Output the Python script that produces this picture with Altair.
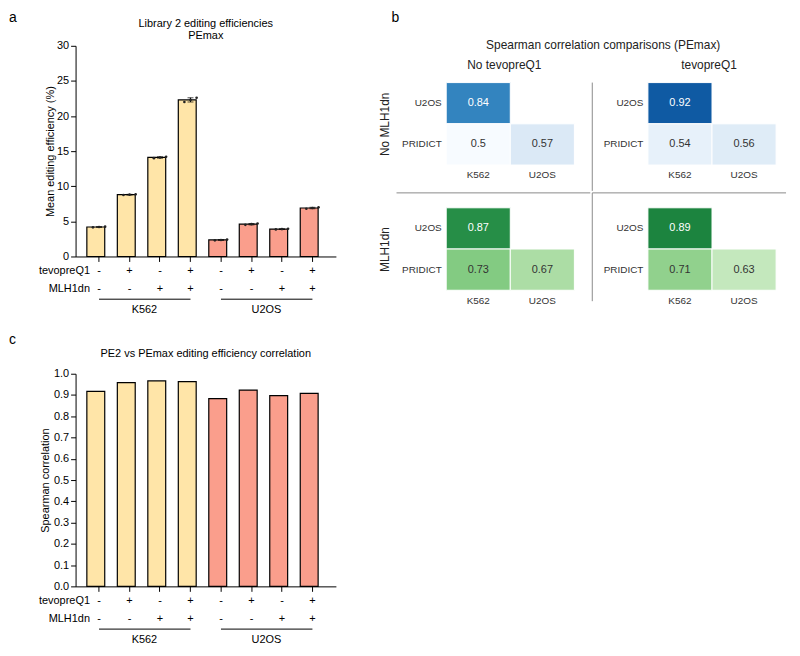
import altair as alt
import pandas as pd

FONT = "Liberation Sans"
YELLOW = "#FFE5A8"
SALMON = "#FA9E8C"
LINE = "#8a8a8a"
BLUES = ["#f7fbff", "#deebf7", "#c6dbef", "#9ecae1", "#6baed6", "#4292c6", "#2171b5", "#08519c", "#08306b"]
GREENS = ["#f7fcf5", "#e5f5e0", "#c7e9c0", "#a1d99b", "#74c476", "#41ab5d", "#238b45", "#006d2c", "#00441b"]

# ---------------- data ----------------
cell_lines = ["K562", "K562", "K562", "K562", "U2OS", "U2OS", "U2OS", "U2OS"]
tevopreq1 = ["-", "+", "-", "+", "-", "+", "-", "+"]
mlh1dn = ["-", "-", "+", "+", "-", "-", "+", "+"]
group_names = ["K562", "U2OS"]

# panel a: mean editing efficiency (%) - three replicates per condition
rep1 = [4.15, 8.75, 14.0, 22.0, 2.30, 4.50, 3.85, 6.80]
rep2 = [4.20, 8.80, 14.1, 22.3, 2.35, 4.60, 3.90, 6.90]
rep3 = [4.25, 8.85, 14.2, 22.6, 2.40, 4.70, 3.95, 7.00]
eff_ticks = [0, 5, 10, 15, 20, 25, 30]

# panel c: Spearman correlation PE2 vs PEmax
pe2_pemax_corr = [0.917, 0.958, 0.966, 0.963, 0.883, 0.923, 0.897, 0.908]
corr_ticks = [0.0, 0.1, 0.2, 0.3, 0.4, 0.5, 0.6, 0.7, 0.8, 0.9, 1.0]

# panel b: Spearman correlation comparisons (PEmax)
hm_row_order = ["U2OS", "PRIDICT"]
hm_col_order = ["K562", "U2OS"]
hm_rows = ["U2OS", "PRIDICT", "PRIDICT"]
hm_cols = ["K562", "K562", "U2OS"]
corr_nomlh_notevo = [0.84, 0.50, 0.57]
corr_nomlh_tevo = [0.92, 0.54, 0.56]
corr_mlh_notevo = [0.87, 0.73, 0.67]
corr_mlh_tevo = [0.89, 0.71, 0.63]
hm_color_range = [0.5, 1.0]

title_a = ["Library 2 editing efficiencies", "PEmax"]
title_b = "Spearman correlation comparisons (PEmax)"
title_c = "PE2 vs PEmax editing efficiency correlation"

# ---------------- tables ----------------
cond_keys = [f"{c}|{t}|{m}" for c, t, m in zip(cell_lines, tevopreq1, mlh1dn)]
reps = pd.DataFrame({
    "cond": cond_keys * 3,
    "cell": cell_lines * 3,
    "rep": [1] * 8 + [2] * 8 + [3] * 8,
    "val": rep1 + rep2 + rep3,
})
corr_df = pd.DataFrame({"cond": cond_keys, "cell": cell_lines, "corr": pe2_pemax_corr})
groups_df = pd.DataFrame({
    "group": group_names,
    "first": [cond_keys[0], cond_keys[4]],
    "last": [cond_keys[3], cond_keys[7]],
    "mid": [cond_keys[1], cond_keys[5]],
})
deco = pd.DataFrame({"k": [0]})

W = 262


def xscale():
    return alt.Scale(domain=cond_keys, paddingInner=0.2, paddingOuter=0.37)


def x_axis():
    return alt.Axis(
        title=["tevopreQ1", "MLH1dn"],
        labelExpr="[split(datum.value, '|')[1], split(datum.value, '|')[2]]",
        labelAngle=0, labelLineHeight=18, labelPadding=3, labelBaseline="top",
        tickSize=5, titleX=14, titleY=8, titleAlign="right", titleBaseline="top",
        titleLineHeight=18, titleFontSize=11, titleFontWeight="normal",
    )


def cell_color():
    return alt.Color("cell:N", scale=alt.Scale(domain=group_names, range=[YELLOW, SALMON]), legend=None)


def group_layers(h):
    rule = alt.Chart(groups_df).mark_rule(color="black", strokeWidth=1).encode(
        x=alt.X("first:N", scale=xscale(), axis=x_axis()), x2="last:N", y=alt.value(h + 43))
    txt = alt.Chart(groups_df).mark_text(fontSize=11, dx=15, baseline="middle", color="black").encode(
        x=alt.X("mid:N", scale=xscale(), axis=x_axis()), y=alt.value(h + 54), text="group:N")
    return [rule, txt]


def letter(ch, x, y):
    return alt.Chart(deco).mark_text(text=ch, fontSize=14, align="left", baseline="alphabetic",
                                     color="black").encode(x=alt.value(x), y=alt.value(y))


def heading(txt, x, y, size, color="black"):
    return alt.Chart(deco).mark_text(text=txt, fontSize=size, align="center", baseline="middle",
                                     lineHeight=12, color=color).encode(x=alt.value(x), y=alt.value(y))


# ---------------- panel a ----------------
HA = 212
ya_scale = alt.Scale(domain=[0, 30])


def ya_axis():
    return alt.Axis(values=eff_ticks, title="Mean editing efficiency (%)", tickSize=5, labelPadding=2,
                    titlePadding=1)


bars_a = alt.Chart(reps).transform_aggregate(
    mean_val="mean(val)", groupby=["cond", "cell"]
).mark_bar(stroke="black", strokeWidth=1.2).encode(
    x=alt.X("cond:N", scale=xscale(), axis=x_axis()),
    y=alt.Y("mean_val:Q", scale=ya_scale, axis=ya_axis()),
    color=cell_color(),
)
err_a = alt.Chart(reps).mark_errorbar(
    extent="stdev", ticks={"size": 6, "color": "black", "thickness": 1}, color="black"
).encode(
    x=alt.X("cond:N", scale=xscale(), axis=x_axis()),
    y=alt.Y("val:Q", scale=ya_scale, axis=ya_axis()),
)
pts_a = alt.Chart(reps).mark_circle(size=7, color="#222", opacity=1).encode(
    x=alt.X("cond:N", scale=xscale(), axis=x_axis()),
    xOffset=alt.XOffset("rep:N", scale=alt.Scale(paddingInner=0, paddingOuter=1)),
    y=alt.Y("val:Q", scale=ya_scale, axis=ya_axis()),
)
chart_a = alt.layer(
    bars_a, err_a, pts_a, *group_layers(HA),
    letter("a", -67, -24),
    heading(title_a, W / 2, -22, 11),
).properties(width=W, height=HA)

# ---------------- panel c ----------------
HC = 214
bars_c = alt.Chart(corr_df).mark_bar(stroke="black", strokeWidth=1.2).encode(
    x=alt.X("cond:N", scale=xscale(), axis=x_axis()),
    y=alt.Y("corr:Q", scale=alt.Scale(domain=[0, 1]),
            axis=alt.Axis(values=corr_ticks, format=".1f", title="Spearman correlation",
                          tickSize=5, labelPadding=2, titlePadding=3)),
    color=cell_color(),
)
chart_c = alt.layer(
    bars_c, *group_layers(HC),
    letter("c", -67, -30),
    heading(title_c, W / 2, -20, 11),
).properties(width=W, height=HC)

# ---------------- panel b ----------------
HM_W, HM_H = 129, 83


def palette_domain(colors):
    lo, hi = hm_color_range
    n = len(colors) - 1
    return [lo + (hi - lo) * i / n for i in range(n + 1)]


def heatmap(vals, colors, title=None, title_dx=0, ytitle=None, decos=()):
    df = pd.DataFrame({"row": hm_rows, "col": hm_cols, "rho": vals})
    base = alt.Chart(df).encode(
        x=alt.X("col:N", scale=alt.Scale(type="band", domain=hm_col_order, paddingInner=0, paddingOuter=0),
                axis=alt.Axis(title=None, domain=False, ticks=False, labelAngle=0, labelPadding=5,
                              labelFontSize=10, labelColor="#333")),
        y=alt.Y("row:N", scale=alt.Scale(type="band", domain=hm_row_order, paddingInner=0, paddingOuter=0),
                axis=alt.Axis(title=ytitle, domain=False, ticks=False, labelPadding=5, labelFontSize=10,
                              labelColor="#333", titleFontSize=12, titlePadding=10, titleColor="#222")),
    )
    rect = base.mark_rect(stroke="white", strokeWidth=1, width=HM_W / len(hm_col_order),
                          height=HM_H / len(hm_row_order)).encode(
        color=alt.Color("rho:Q", scale=alt.Scale(domain=palette_domain(colors), range=colors), legend=None))
    txt = base.mark_text(fontSize=11).encode(
        text=alt.Text("rho:Q"),
        color=alt.condition("datum.rho > 0.8", alt.value("white"), alt.value("#333")))
    props = dict(width=HM_W, height=HM_H)
    if title:
        props["title"] = alt.TitleParams(title, fontSize=12, anchor="middle", offset=10, color="#222",
                                         dx=title_dx)
    return alt.layer(rect, txt, *decos).properties(**props)


tr_vline = alt.Chart(deco).mark_rule(color=LINE, strokeWidth=1).encode(
    x=alt.value(-56), y=alt.value(0), y2=alt.value(109))
bl_hline = alt.Chart(deco).mark_rule(color=LINE, strokeWidth=1).encode(
    x=alt.value(-50), x2=alt.value(145), y=alt.value(-15))
br_hline = alt.Chart(deco).mark_rule(color=LINE, strokeWidth=1).encode(
    x=alt.value(-56), x2=alt.value(139), y=alt.value(-15))
br_vline = alt.Chart(deco).mark_rule(color=LINE, strokeWidth=1).encode(
    x=alt.value(-56), y=alt.value(-15), y2=alt.value(94))

TL = heatmap(corr_nomlh_notevo, BLUES, title="No tevopreQ1", title_dx=-6, ytitle="No MLH1dn")
TR = heatmap(corr_nomlh_tevo, BLUES, title="tevopreQ1", title_dx=-3, decos=(tr_vline,))
BL = heatmap(corr_mlh_notevo, GREENS, ytitle="MLH1dn", decos=(bl_hline,))
BR = heatmap(corr_mlh_tevo, GREENS, decos=(br_hline, br_vline))

header_b = alt.layer(
    letter("b", -55, -24),
    heading(title_b, 158, -1, 12, "#222"),
).properties(width=HM_W, height=1)

top_row = alt.hconcat(TL, TR, spacing=16).resolve_scale(color="independent")
bottom_row = alt.hconcat(BL, BR, spacing=0).resolve_scale(color="independent")
grid_b = alt.vconcat(top_row, bottom_row, spacing=0).resolve_scale(color="independent")
panel_b = alt.vconcat(header_b, grid_b, spacing=7).resolve_scale(color="independent")

# ---------------- assemble ----------------
top = alt.hconcat(chart_a, panel_b, spacing=41).resolve_scale(color="independent", x="independent", y="independent")
chart = alt.vconcat(top, chart_c, spacing=16).resolve_scale(
    color="independent", x="independent", y="independent"
).properties(
    padding={"left": 0, "top": 0, "right": 5, "bottom": 5}
).configure_view(stroke="transparent").configure_axis(
    labelFont=FONT, titleFont=FONT, labelColor="black", titleColor="black", domainColor="black",
    tickColor="black", labelFontSize=11, titleFontSize=11, titleFontWeight="normal", grid=False,
).configure_title(font=FONT, color="black", fontWeight="normal").configure_text(font=FONT)

chart.save("out.html", embed_options={"renderer": "svg", "actions": False})
